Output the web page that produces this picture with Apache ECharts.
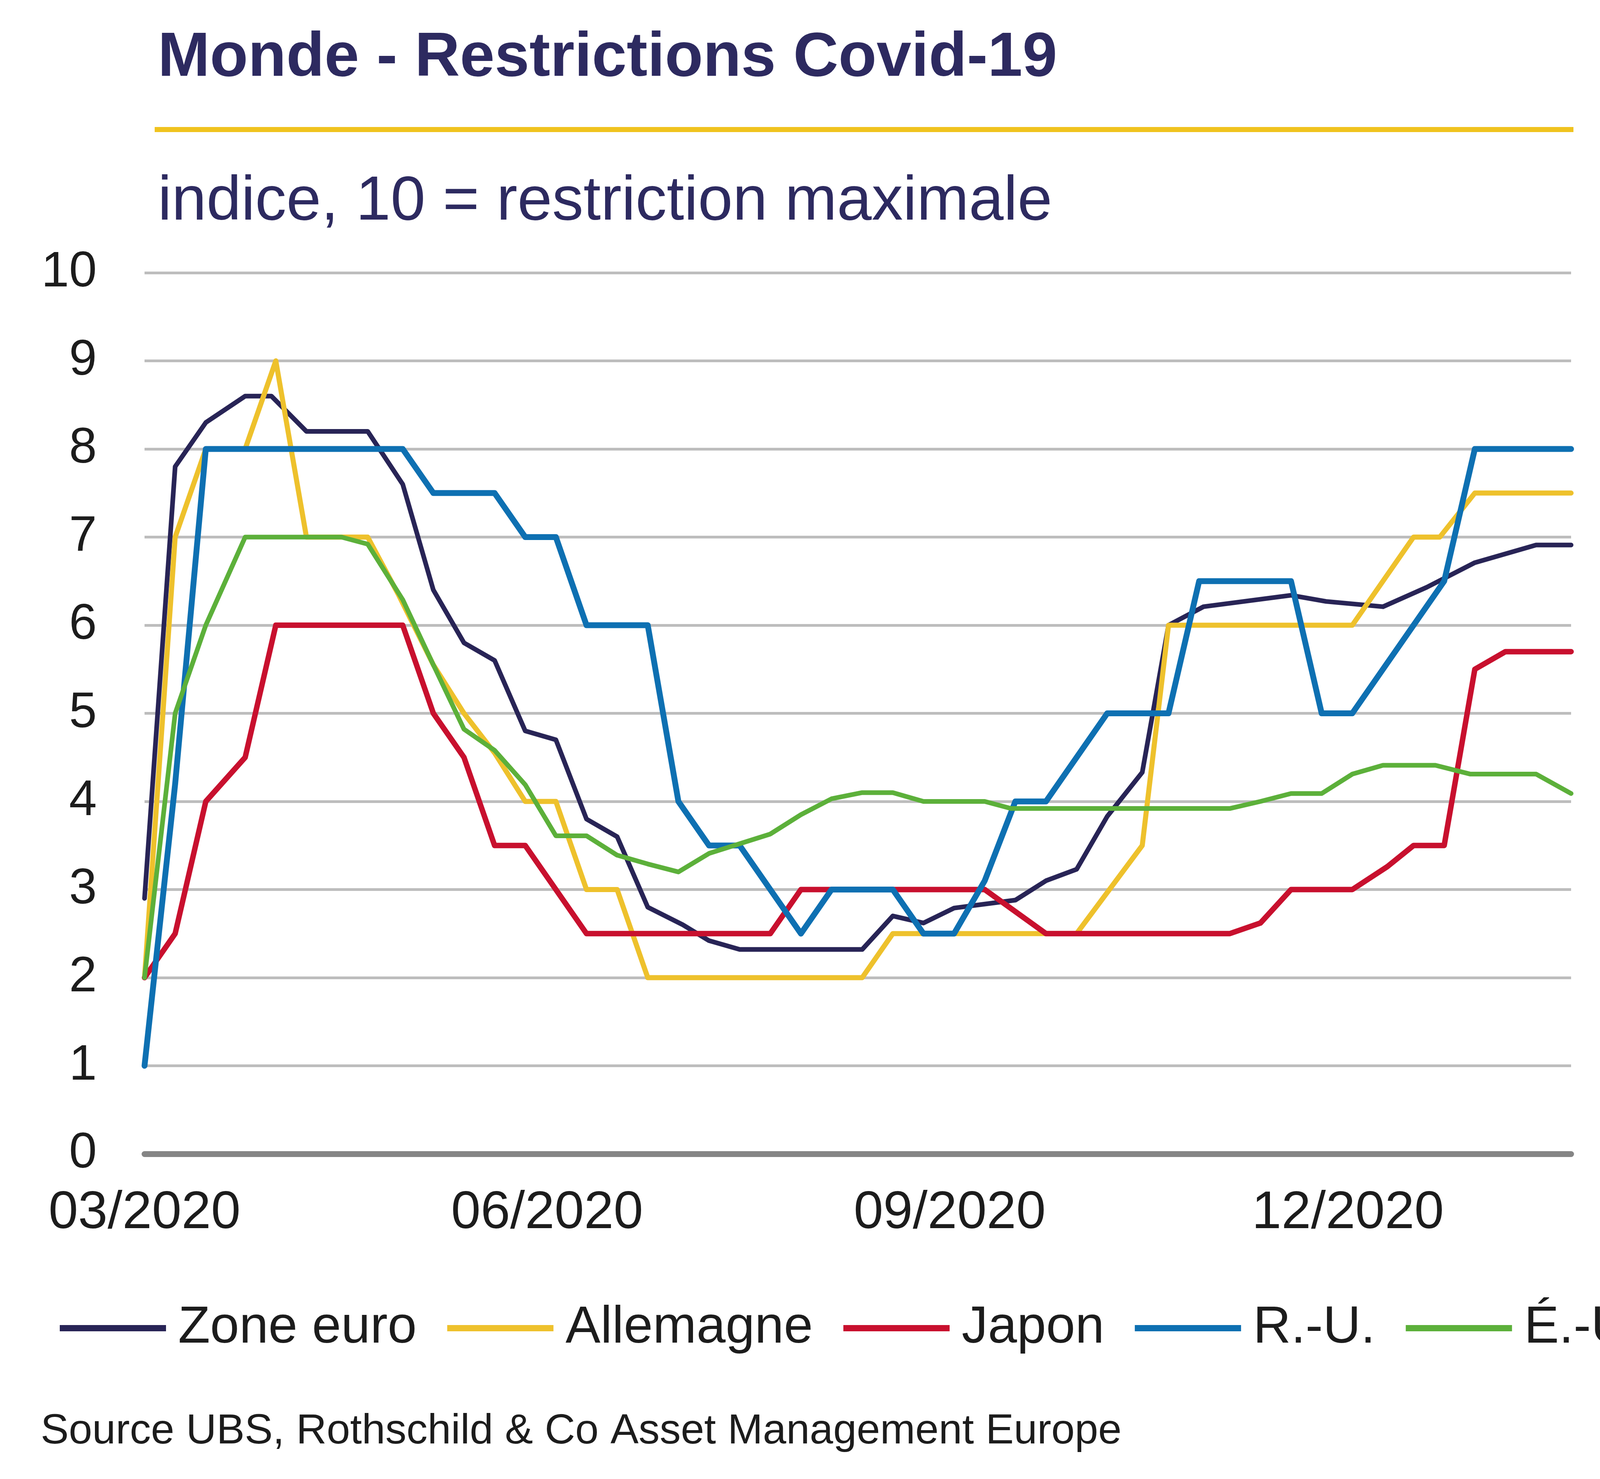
<!DOCTYPE html>
<html>
<head>
<meta charset="utf-8">
<script src="https://cdn.jsdelivr.net/npm/echarts@6/dist/echarts.min.js"></script>
<style>
  html, body { margin: 0; padding: 0; background: #fff; }
  #main { width: 4224px; height: 3785px; }
</style>
</head>
<body>
<div id="main"></div>
<script>
// weekly index readings, one date list per series (dates where the line changes)
var euroDates = ['2020-03-01','2020-03-08','2020-03-15','2020-03-24','2020-03-30','2020-04-07','2020-04-21','2020-04-29',
  '2020-05-06','2020-05-13','2020-05-20','2020-05-27','2020-06-03','2020-06-10','2020-06-17','2020-06-24','2020-07-02',
  '2020-07-08','2020-07-15','2020-08-12','2020-08-19','2020-08-26','2020-09-02','2020-09-16','2020-09-23','2020-09-30',
  '2020-10-07','2020-10-15','2020-10-21','2020-10-29','2020-11-18','2020-11-26','2020-12-09','2020-12-19','2020-12-30',
  '2021-01-13','2021-01-21'];
var euroVals = [2.9, 7.8, 8.3, 8.6, 8.6, 8.2, 8.2, 7.6, 6.4, 5.8, 5.6, 4.8, 4.7, 3.8, 3.6, 2.8, 2.6,
  2.42, 2.32, 2.32, 2.7, 2.62, 2.79, 2.88, 3.1, 3.23, 3.83, 4.33, 6.0, 6.21, 6.34, 6.27, 6.21, 6.43, 6.71, 6.91, 6.91];

var deDates = ['2020-03-01','2020-03-08','2020-03-15','2020-03-24','2020-03-31','2020-04-07','2020-04-21','2020-04-28',
  '2020-05-06','2020-05-13','2020-05-20','2020-05-27','2020-06-03','2020-06-10','2020-06-17','2020-06-24','2020-08-12',
  '2020-08-19','2020-09-30','2020-10-15','2020-10-21','2020-12-02','2020-12-16','2020-12-22','2020-12-30','2021-01-21'];
var deVals = [2.0, 7.0, 8.0, 8.0, 9.0, 7.0, 7.0, 6.35, 5.55, 5.0, 4.55, 4.0, 4.0, 3.0, 3.0, 2.0, 2.0,
  2.5, 2.5, 3.5, 6.0, 6.0, 7.0, 7.0, 7.5, 7.5];

var jpDates = ['2020-03-01','2020-03-08','2020-03-15','2020-03-24','2020-03-31','2020-04-29','2020-05-06','2020-05-13',
  '2020-05-20','2020-05-27','2020-06-10','2020-07-22','2020-07-29','2020-09-09','2020-09-23','2020-11-04','2020-11-11',
  '2020-11-18','2020-12-02','2020-12-10','2020-12-16','2020-12-23','2020-12-30','2021-01-06','2021-01-21'];
var jpVals = [2.0, 2.5, 4.0, 4.5, 6.0, 6.0, 5.0, 4.5, 3.5, 3.5, 2.5, 2.5, 3.0, 3.0, 2.5, 2.5, 2.62,
  3.0, 3.0, 3.26, 3.5, 3.5, 5.5, 5.7, 5.7];

var ukDates = ['2020-03-01','2020-03-08','2020-03-15','2020-04-29','2020-05-06','2020-05-20','2020-05-27','2020-06-03',
  '2020-06-10','2020-06-24','2020-07-01','2020-07-08','2020-07-15','2020-07-29','2020-08-05','2020-08-19','2020-08-26',
  '2020-09-02','2020-09-09','2020-09-16','2020-09-23','2020-10-07','2020-10-21','2020-10-28','2020-11-18','2020-11-25',
  '2020-12-02','2020-12-09','2020-12-16','2020-12-23','2020-12-30','2021-01-21'];
var ukVals = [1.0, 4.2, 8.0, 8.0, 7.5, 7.5, 7.0, 7.0, 6.0, 6.0, 4.0, 3.5, 3.5, 2.5, 3.0, 3.0, 2.5,
  2.5, 3.1, 4.0, 4.0, 5.0, 5.0, 6.5, 6.5, 5.0, 5.0, 5.5, 6.0, 6.5, 8.0, 8.0];

var usDates = ['2020-03-01','2020-03-08','2020-03-15','2020-03-24','2020-04-15','2020-04-21','2020-04-29','2020-05-06',
  '2020-05-13','2020-05-20','2020-05-27','2020-06-03','2020-06-10','2020-06-17','2020-06-24','2020-07-01','2020-07-08',
  '2020-07-15','2020-07-22','2020-07-29','2020-08-05','2020-08-12','2020-08-19','2020-08-26','2020-09-09','2020-09-15',
  '2020-11-04','2020-11-11','2020-11-18','2020-11-25','2020-12-02','2020-12-09','2020-12-21','2020-12-29','2021-01-13',
  '2021-01-21'];
var usVals = [2.0, 5.0, 6.0, 7.0, 7.0, 6.92, 6.29, 5.55, 4.82, 4.58, 4.19, 3.61, 3.61, 3.39, 3.29, 3.2, 3.41,
  3.52, 3.63, 3.85, 4.03, 4.1, 4.1, 4.0, 4.0, 3.92, 3.92, 4.0, 4.09, 4.09, 4.31, 4.41, 4.41, 4.31, 4.31, 4.09];

var seriesNames = ['Zone euro', 'Allemagne', 'Japon', 'R.-U.', 'É.-U.'];
var seriesColors = ['#282456', '#EEC12C', '#C8102E', '#0E70B2', '#5CB03A'];
var seriesWidths = [12, 13, 14, 15, 12];

var tickDates = ['2020-03-01', '2020-06-01', '2020-09-01', '2020-12-01'];
var tickLabels = ['03/2020', '06/2020', '09/2020', '12/2020'];

var FONT = '"Liberation Sans", Arial, sans-serif';

// dates -> UTC timestamps so the x axis is a plain linear time scale
function toTime(s) {
  var p = s.split('-');
  return Date.UTC(+p[0], +p[1] - 1, +p[2]);
}
function pairs(dates, vals) {
  return dates.map(function (d, i) { return [toTime(d), vals[i]]; });
}

var tickTimes = tickDates.map(toTime);
var allData = [
  pairs(euroDates, euroVals),
  pairs(deDates, deVals),
  pairs(jpDates, jpVals),
  pairs(ukDates, ukVals),
  pairs(usDates, usVals)
];

var myChart = echarts.init(document.getElementById('main'));

var option = {
  animation: false,
  backgroundColor: '#fff',
  grid: { left: 370, right: 202, top: 698, bottom: 832, containLabel: false },
  xAxis: {
    type: 'value',
    min: toTime('2020-03-01'),
    max: toTime('2021-01-21'),
    axisLine: { show: true, lineStyle: { color: '#858585', width: 15 } },
    axisTick: { show: false },
    splitLine: { show: false },
    axisLabel: {
      customValues: tickTimes,
      formatter: function (v) {
        var i = tickTimes.indexOf(v);
        return i >= 0 ? tickLabels[i] : '';
      },
      fontSize: 136,
      fontFamily: FONT,
      color: '#1c1c1c',
      margin: 84
    }
  },
  yAxis: {
    type: 'value',
    min: 0,
    max: 10,
    interval: 1,
    axisLine: { show: false },
    axisTick: { show: false },
    splitLine: { lineStyle: { color: '#bdbdbd', width: 7 } },
    axisLabel: { fontSize: 128, fontFamily: FONT, color: '#1c1c1c', margin: 122 }
  },
  legend: {
    data: seriesNames,
    left: 148,
    top: 3327,
    icon: 'rect',
    itemWidth: 272,
    itemHeight: 16,
    itemGap: 78,
    textStyle: { fontSize: 134, fontFamily: FONT, color: '#1c1c1c', padding: [0, 0, 0, 26] }
  },
  series: seriesNames.map(function (name, i) {
    return {
      name: name,
      type: 'line',
      data: allData[i],
      symbol: 'none',
      color: seriesColors[i],
      lineStyle: { color: seriesColors[i], width: seriesWidths[i], join: 'round', cap: 'round' }
    };
  }),
  graphic: [
    {
      type: 'text', x: 404, y: 150,
      style: { text: 'Monde - Restrictions Covid-19', font: 'bold 160px ' + FONT, fill: '#2D2A60',
        textAlign: 'left', textVerticalAlign: 'middle' }
    },
    {
      type: 'rect', shape: { x: 396, y: 325, width: 3632, height: 13 },
      style: { fill: '#F0C31E' }
    },
    {
      type: 'text', x: 404, y: 518,
      style: { text: 'indice, 10 = restriction maximale', font: '160px ' + FONT, fill: '#2D2A60',
        textAlign: 'left', textVerticalAlign: 'middle' }
    },
    {
      type: 'text', x: 104, y: 3664,
      style: { text: 'Source UBS, Rothschild & Co Asset Management Europe', font: '108px ' + FONT, fill: '#1c1c1c',
        textAlign: 'left', textVerticalAlign: 'middle' }
    }
  ]
};
myChart.setOption(option);
</script>
</body>
</html>
